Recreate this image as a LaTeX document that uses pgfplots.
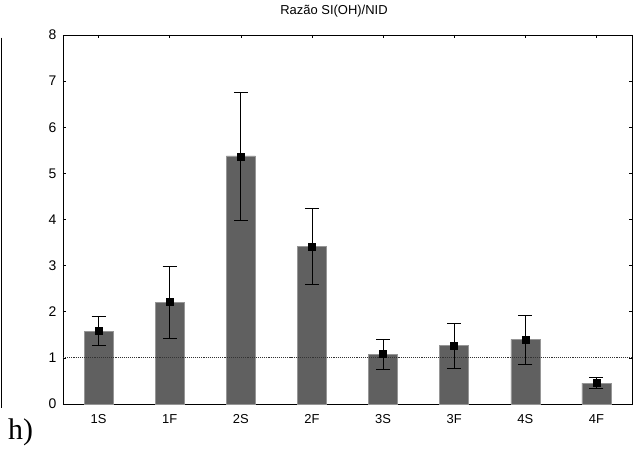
\documentclass[border=0pt]{standalone}
\usepackage{pgfplots}
\pgfplotsset{compat=1.18}
\usepackage{fontspec}
\setmainfont{Liberation Sans}
\newfontfamily\serifh{Liberation Serif}
\definecolor{barc}{RGB}{96,96,96}
\definecolor{bare}{RGB}{150,150,150}
\begin{document}
\begin{tikzpicture}[x=1bp,y=1bp]
\useasboundingbox (-63,-46) rectangle (574,404);
\begin{axis}[
  at={(0,0)}, anchor=south west,
  scale only axis, width=569bp, height=369bp,
  xmin=-0.5, xmax=7.5, ymin=0, ymax=8,
  xtick={0,...,7}, xticklabels={1S,1F,2S,2F,3S,3F,4S,4F},
  ytick={0,...,8},
  tick align=inside, major tick length=3bp,
  tick style={black, line width=0.6bp},
  axis line style={line width=0.8bp},
  xticklabel style={font=\fontsize{13}{15}\selectfont, anchor=base, yshift=-20bp},
  yticklabel style={font=\fontsize{14}{16}\selectfont, xshift=-3bp},
  /pgf/number format/assume math mode=true,
  clip=false,
]
\addplot[ybar, bar width=29bp, fill=barc, draw=bare, line width=0.6bp] coordinates {
(0,1.58) (1,2.21) (2,5.38) (3,3.42) (4,1.08) (5,1.27) (6,1.40) (7,0.45)};
\addplot[black!80, densely dotted, line width=1.1bp] coordinates {(-0.5,1) (7.5,1)};
\addplot[only marks, mark=square*, mark size=3.5bp, black,
  error bars/.cd, y dir=both, y explicit,
  error mark options={rotate=90, mark size=7bp, line width=0.8bp, black},
  error bar style={line width=0.8bp, black}] coordinates {
(0,1.59) += (0,0.31) -= (0,0.32)
(1,2.21) += (0,0.78) -= (0,0.78)
(2,5.37) += (0,1.38) -= (0,1.38)
(3,3.41) += (0,0.83) -= (0,0.81)
(4,1.08) += (0,0.31) -= (0,0.33)
(5,1.27) += (0,0.47) -= (0,0.50)
(6,1.39) += (0,0.53) -= (0,0.54)
(7,0.46) += (0,0.11) -= (0,0.12)
};
\end{axis}
\node[font=\fontsize{13}{15}\selectfont] at (271,393) {Razão SI(OH)/NID};
\draw[line width=0.8bp] (-62,366.3) -- (-62,-4);
\node[anchor=base west, inner sep=0pt, font=\serifh\fontsize{30}{32}\selectfont] at (-55,-36) {h)};
\end{tikzpicture}
\end{document}
